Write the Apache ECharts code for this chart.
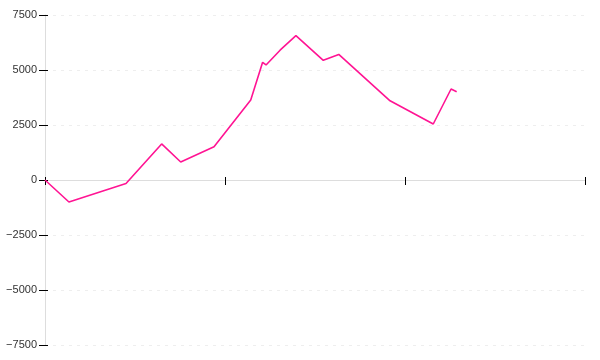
<!DOCTYPE html>
<html><head><meta charset="utf-8">
<script src="https://cdn.jsdelivr.net/npm/echarts@6/dist/echarts.min.js"></script>
<style>html,body{margin:0;padding:0;background:#fff}#c{width:600px;height:360px}</style>
</head><body><div id="c"></div>
<script>
// x positions (arbitrary units along the horizontal value axis, 0..30)
const xValues = [0, 1.33, 4.5, 6.48, 7.54, 9.39, 11.43, 12.09, 12.28, 13.06, 13.94, 15.46, 16.32, 19.17, 21.57, 22.56, 22.87];
const yValues = [0, -1000, -160, 1640, 820, 1515, 3636, 5350, 5230, 5900, 6560, 5440, 5710, 3600, 2545, 4136, 4015];
const yTicks = [-7500, -5000, -2500, 0, 2500, 5000, 7500];

const data = xValues.map((x, i) => [x, yValues[i]]);
const chart = echarts.init(document.getElementById('c'), null, {renderer: 'canvas'});
const font = {color: '#333', fontSize: 11, fontFamily: 'Liberation Sans, Arial, sans-serif'};
chart.setOption({
  animation: false,
  grid: {left: 45, right: 15, top: 15, bottom: 15, containLabel: false},
  xAxis: [{
    type: 'value', min: 0, max: 30, interval: 10,
    axisLine: {show: true, onZero: true, lineStyle: {color: '#ddd', width: 1}},
    axisTick: {show: true, inside: false, length: 5, lineStyle: {color: '#000'}},
    axisLabel: {show: false},
    splitLine: {show: false}
  }, {
    type: 'value', min: 0, max: 30, interval: 10, position: 'bottom',
    axisLine: {show: false, onZero: true},
    axisTick: {show: true, inside: true, length: 3, lineStyle: {color: '#000'}},
    axisLabel: {show: false},
    splitLine: {show: false}
  }],
  yAxis: [{
    type: 'value', min: yTicks[0], max: yTicks[yTicks.length - 1], interval: 2500,
    axisLine: {show: true, onZero: false, lineStyle: {color: '#ddd'}},
    axisTick: {show: true, inside: false, length: 6, lineStyle: {color: '#000'}},
    axisLabel: Object.assign({margin: 8, formatter: v => (v < 0 ? '\u2212' + Math.abs(v) : String(v))}, font),
    splitLine: {show: true, lineStyle: {color: '#eee', type: [3, 5]}}
  }, {
    type: 'value', min: yTicks[0], max: yTicks[yTicks.length - 1], interval: 2500, position: 'left',
    axisLine: {show: false, onZero: false},
    axisTick: {show: true, inside: true, length: 3, lineStyle: {color: '#000'}},
    axisLabel: {show: false},
    splitLine: {show: false}
  }],
  series: [{
    type: 'line', data: data, showSymbol: false, symbol: 'none',
    lineStyle: {color: '#ff1493', width: 1.6},
    itemStyle: {color: '#ff1493'}
  }]
});
</script></body></html>
